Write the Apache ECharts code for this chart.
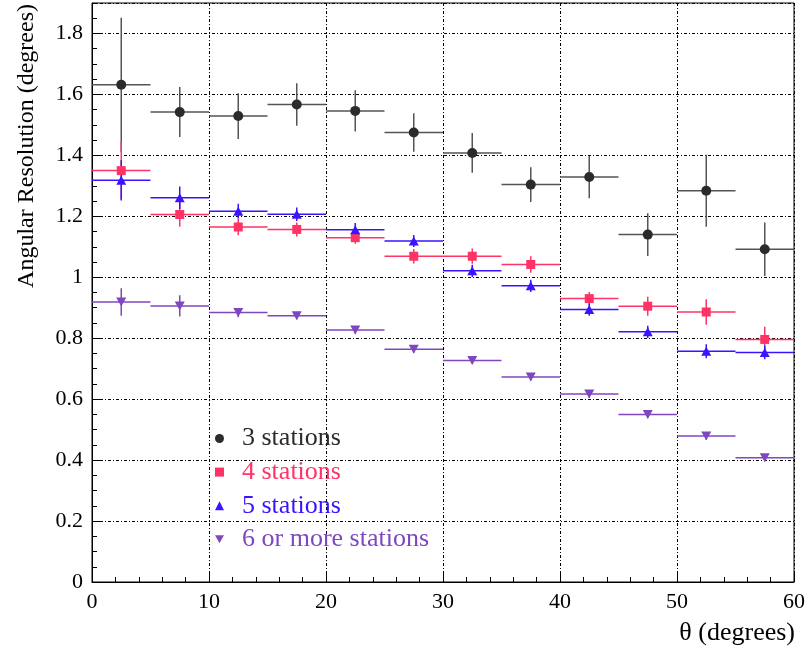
<!DOCTYPE html>
<html>
<head>
<meta charset="utf-8">
<script src="https://cdn.jsdelivr.net/npm/echarts@6/dist/echarts.min.js"></script>
<style>html,body{margin:0;padding:0;background:#fff}#chart{width:809px;height:649px}</style>
</head>
<body>
<div id="chart"></div>
<script>
// theta bin centres (degrees), each bin is 5 degrees wide
const thetaCenters = [2.5, 7.5, 12.5, 17.5, 22.5, 27.5, 32.5, 37.5, 42.5, 47.5, 52.5, 57.5];
const binHalfWidth = 2.5;

const seriesNames = ['3 stations', '4 stations', '5 stations', '6 or more stations'];

const res3 = [1.632, 1.542, 1.529, 1.567, 1.546, 1.475, 1.408, 1.304, 1.329, 1.140, 1.284, 1.092];
const err3 = [0.22, 0.082, 0.075, 0.07, 0.068, 0.063, 0.065, 0.057, 0.07, 0.07, 0.118, 0.088];

const res4 = [1.350, 1.206, 1.165, 1.157, 1.130, 1.069, 1.069, 1.042, 0.930, 0.905, 0.886, 0.796];
const err4 = [0.094, 0.04, 0.027, 0.023, 0.02, 0.024, 0.025, 0.027, 0.022, 0.031, 0.042, 0.042];

const res5 = [1.318, 1.261, 1.217, 1.207, 1.156, 1.119, 1.021, 0.972, 0.894, 0.821, 0.757, 0.753];
const err5 = [0.066, 0.037, 0.024, 0.022, 0.022, 0.02, 0.02, 0.02, 0.02, 0.02, 0.023, 0.022];

const res6 = [0.919, 0.906, 0.884, 0.874, 0.827, 0.764, 0.727, 0.673, 0.617, 0.550, 0.479, 0.408];
const err6 = [0.045, 0.035, 0.015, 0.012, 0.012, 0.012, 0.012, 0.012, 0.012, 0.012, 0.012, 0.012];

const xTicks = [0, 10, 20, 30, 40, 50, 60];
const yTickLabels = ['0', '0.2', '0.4', '0.6', '0.8', '1', '1.2', '1.4', '1.6', '1.8'];

const colors = ['#2b2b2b', '#ff3366', '#3a14ff', '#7f47bf'];
const barColors = ['#555555', '#ff3366', '#3a14ff', '#7f47bf'];
const symbols = ['circle', 'rect', 'triangle', 'path://M0,0 L10,0 L5,9 Z'];
const symbolSizes = [10, 9, [10, 9], [10, 9]];

const allRes = [res3, res4, res5, res6];
const allErr = [err3, err4, err5, err6];

const serifFont = '"Liberation Serif", "DejaVu Serif", serif';

function errData(k) {
  return thetaCenters.map((x, i) => [x, allRes[k][i], allErr[k][i]]);
}
function ptData(k) {
  return thetaCenters.map((x, i) => [x, allRes[k][i]]);
}

const series = [];
for (let k = 0; k < 4; k++) {
  series.push({
    type: 'custom',
    name: seriesNames[k] + ' err',
    data: errData(k),
    z: 2,
    silent: true,
    renderItem: function (params, api) {
      const x = api.value(0), y = api.value(1), e = api.value(2);
      const pL = api.coord([x - binHalfWidth, y]);
      const pR = api.coord([x + binHalfWidth, y]);
      const pT = api.coord([x, y + e]);
      const pB = api.coord([x, y - e]);
      const st = { stroke: barColors[k], lineWidth: 1.5 };
      return {
        type: 'group',
        children: [
          { type: 'line', shape: { x1: pL[0], y1: pL[1], x2: pR[0], y2: pR[1] }, style: st },
          { type: 'line', shape: { x1: pT[0], y1: pT[1], x2: pB[0], y2: pB[1] }, style: st }
        ]
      };
    }
  });
  series.push({
    type: 'scatter',
    name: seriesNames[k],
    data: ptData(k),
    symbol: symbols[k],
    symbolSize: symbolSizes[k],
    itemStyle: { color: colors[k], opacity: 1 },
    z: 3,
    silent: true
  });
}

const legendText = { fontFamily: serifFont, fontSize: 26, lineHeight: 26, padding: [0, 0, 0, 13] };

const chart = echarts.init(document.getElementById('chart'), null, { renderer: 'canvas' });
chart.setOption({
  animation: false,
  backgroundColor: '#ffffff',
  grid: { left: 92, right: 15, top: 3, bottom: 67, show: true, borderColor: '#000', borderWidth: 1, backgroundColor: 'transparent' },
  legend: {
    orient: 'vertical',
    left: 210,
    top: 420.5,
    itemWidth: 9,
    itemHeight: 9,
    itemGap: 7.6,
    selectedMode: false,
    data: seriesNames.map((n, k) => ({ name: n, textStyle: Object.assign({}, legendText, { color: colors[k] }) })),
    textStyle: legendText
  },
  xAxis: [{
    type: 'value', min: xTicks[0], max: xTicks[xTicks.length - 1], interval: 10,
    axisLine: { show: true, lineStyle: { color: '#000', width: 1 } },
    axisTick: { show: true, inside: true, length: 9, lineStyle: { color: '#000' } },
    minorTick: { show: true, splitNumber: 5, length: 5, lineStyle: { color: '#000' } },
    axisLabel: { color: '#000', fontFamily: serifFont, fontSize: 22, margin: 9 },
    splitLine: { show: true, lineStyle: { color: '#000', width: 1, type: [3, 2, 1, 2] } }
  }],
  yAxis: [{
    type: 'value', min: 0, max: 1.9, interval: 0.2,
    axisLine: { show: true, lineStyle: { color: '#000', width: 1 } },
    axisTick: { show: true, inside: true, length: 9, lineStyle: { color: '#000' } },
    axisLabel: {
      color: '#000', fontFamily: serifFont, fontSize: 22, margin: 9, showMaxLabel: false,
      formatter: function (v) { const i = Math.round(v / 0.2); return Math.abs(v - i * 0.2) < 1e-6 ? yTickLabels[i] : ''; }
    },
    splitLine: { show: true, lineStyle: { color: '#000', width: 1, type: [3, 2, 1, 2] } }
  }, {
    type: 'value', min: 0, max: 1.9, interval: 0.05, position: 'left', offset: 0,
    axisLine: { show: false },
    axisTick: { show: true, inside: true, length: 5, lineStyle: { color: '#000' } },
    axisLabel: { show: false },
    splitLine: { show: false }
  }],
  graphic: [
    { type: 'text', x: 27, y: 4, rotation: Math.PI / 2,
      style: { text: 'Angular Resolution (degrees)', font: '24px ' + serifFont, fill: '#000', align: 'right', verticalAlign: 'middle' } },
    { type: 'text', x: 795, y: 633,
      style: { text: 'θ (degrees)', font: '26px ' + serifFont, fill: '#000', align: 'right', verticalAlign: 'middle' } }
  ],
  series: series
});
</script>
</body>
</html>
